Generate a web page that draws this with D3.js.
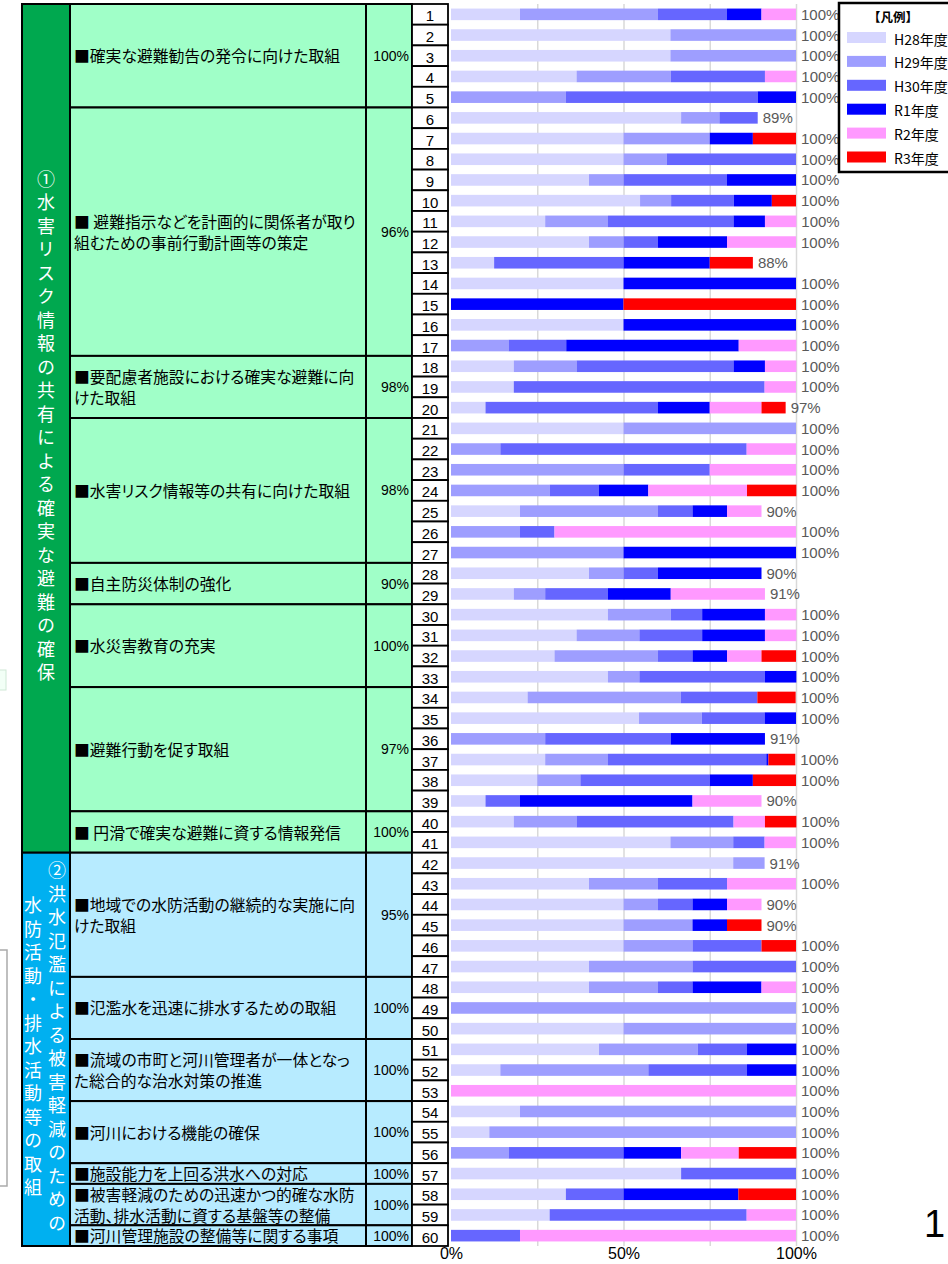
<!DOCTYPE html>
<html>
<head>
<meta charset="utf-8">
<script src="https://cdn.jsdelivr.net/npm/d3@7"></script>
<style>
  html, body { margin: 0; padding: 0; background: #fff; }
  svg { display: block; font-family: "Noto Sans CJK JP", "Noto Sans", sans-serif; }
  .jp { font-feature-settings: "palt"; }
  .num { font-family: "Liberation Sans", Arial, sans-serif; }
</style>
</head>
<body>
<div id="chart"></div>
<script>
// 行番号
const rows = d3.range(1, 61);

// 年度ごとの割合 (%)
const seriesNames = ["H28年度", "H29年度", "H30年度", "R1年度", "R2年度", "R3年度"];
const h28 = [20, 63.6, 63.6, 36.4, 0, 66.7, 50, 50, 40, 54.8,
             27.3, 40, 12.5, 50, 0, 50, 0, 18.2, 18.2, 10,
             50, 0, 0, 0, 20, 0, 0, 40, 18.2, 45.5,
             36.4, 30, 45.5, 22.2, 54.5, 0, 27.3, 25, 10, 18.2,
             63.6, 81.8, 40, 50, 50, 50, 40, 40, 0, 50,
             42.9, 14.3, 0, 20, 11.1, 0, 66.7, 33.3, 28.6, 0];
const h29 = [40, 36.4, 36.4, 27.3, 33.3, 11.1, 25, 12.5, 10, 9,
             18.2, 10, 0, 0, 0, 0, 16.7, 18.2, 0, 0,
             50, 14.3, 50, 28.6, 40, 20, 50, 10, 9.1, 18.2,
             18.2, 30, 9.1, 44.4, 18.2, 27.3, 18.2, 12.5, 0, 18.2,
             18.2, 9.1, 20, 10, 20, 20, 30, 20, 100, 50,
             28.6, 42.9, 0, 80, 88.9, 16.7, 0, 0, 0, 0];
const h30 = [20, 0, 0, 27.3, 55.6, 11.1, 0, 37.5, 30, 18.2,
             36.4, 10, 37.5, 0, 0, 0, 16.7, 45.5, 72.7, 50,
             0, 71.4, 25, 14.3, 10, 10, 0, 10, 18.2, 9.1,
             18.2, 10, 36.4, 22.2, 18.2, 36.4, 45.9, 37.5, 10, 45.5,
             9.1, 0, 20, 10, 0, 20, 30, 10, 0, 0,
             14.3, 28.6, 0, 0, 0, 33.3, 33.3, 16.7, 57.1, 20];
const r1  = [10, 0, 0, 0, 11.1, 0, 12.5, 0, 20, 11,
             9.1, 20, 25, 50, 50, 50, 50, 9.1, 0, 15,
             0, 0, 0, 14.3, 10, 0, 50, 30, 18.2, 18.2,
             18.2, 10, 9.1, 0, 9.1, 27.3, 0.6, 12.5, 50, 0,
             0, 0, 0, 10, 10, 0, 0, 20, 0, 0,
             14.3, 14.3, 0, 0, 0, 16.7, 0, 33.3, 0, 0];
const r2  = [10, 0, 0, 9.1, 0, 0, 0, 0, 0, 0,
             9.1, 20, 0, 0, 0, 0, 16.7, 9.1, 9.1, 15,
             0, 14.3, 25, 28.6, 10, 70, 0, 0, 27.3, 9.1,
             9.1, 10, 0, 0, 0, 0, 0, 0, 20, 9.1,
             9.1, 0, 20, 10, 0, 0, 0, 10, 0, 0,
             0, 0, 100, 0, 0, 16.7, 0, 0, 14.3, 80];
const r3  = [0, 0, 0, 0, 0, 0, 12.5, 0, 0, 7,
             0, 0, 12.5, 0, 50, 0, 0, 0, 0, 7,
             0, 0, 0, 14.3, 0, 0, 0, 0, 0, 0,
             0, 10, 0, 11.1, 0, 0, 7.8, 12.5, 0, 9.1,
             0, 0, 0, 0, 10, 10, 0, 0, 0, 0,
             0, 0, 0, 0, 0, 16.7, 0, 16.7, 0, 0];
const seriesColors = ["#d6d6ff", "#9e9eff", "#6666ff", "#0000ff", "#ff99ff", "#ff0000"];

// 取組項目 (行の範囲と達成率)
const groups = [
  { lines: ["■確実な避難勧告の発令に向けた取組"], pct: "100%", from: 1, to: 5 },
  { lines: ["■ 避難指示などを計画的に関係者が取り", "組むための事前行動計画等の策定"], pct: "96%", from: 6, to: 17 },
  { lines: ["■要配慮者施設における確実な避難に向", "けた取組"], pct: "98%", from: 18, to: 20 },
  { lines: ["■水害リスク情報等の共有に向けた取組"], pct: "98%", from: 21, to: 27 },
  { lines: ["■自主防災体制の強化"], pct: "90%", from: 28, to: 29 },
  { lines: ["■水災害教育の充実"], pct: "100%", from: 30, to: 33 },
  { lines: ["■避難行動を促す取組"], pct: "97%", from: 34, to: 39 },
  { lines: ["■ 円滑で確実な避難に資する情報発信"], pct: "100%", from: 40, to: 41 },
  { lines: ["■地域での水防活動の継続的な実施に向", "けた取組"], pct: "95%", from: 42, to: 47 },
  { lines: ["■氾濫水を迅速に排水するための取組"], pct: "100%", from: 48, to: 50 },
  { lines: ["■流域の市町と河川管理者が一体となっ", "た総合的な治水対策の推進"], pct: "100%", from: 51, to: 53 },
  { lines: ["■河川における機能の確保"], pct: "100%", from: 54, to: 56 },
  { lines: ["■施設能力を上回る洪水への対応"], pct: "100%", from: 57, to: 57 },
  { lines: ["■被害軽減のための迅速かつ的確な水防", "活動、排水活動に資する基盤等の整備"], pct: "100%", from: 58, to: 59 },
  { lines: ["■河川管理施設の整備等に関する事項"], pct: "100%", from: 60, to: 60 }
];

// 大項目
const sections = [
  { cols: ["①水害リスク情報の共有による確実な避難の確保"], from: 1, to: 41 },
  { cols: ["②洪水氾濫による被害軽減のための", "水防活動・排水活動等の取組"], from: 42, to: 60 }
];
const sectionDark  = ["#00a84f", "#00b0f0"];
const sectionLight = ["#a0ffc8", "#b7ebff"];

const xTicks = [0, 50, 100];
const gridTicks = [25, 50, 75, 100];

// ---- 描画 ----
const W = 948, H = 1264;
const yTop = 4, yBottom = 1246;

const svg = d3.select("#chart").append("svg")
  .attr("width", W).attr("height", H);

const x = d3.scaleLinear().domain([0, 100]).range([451, 796]);
const yRow = d3.scaleBand().domain(rows).range([yTop, yBottom]);
const yBar = d3.scaleBand().domain(rows).range([yTop, yBottom])
  .paddingInner(0.44).paddingOuter(0.22);
const color = d3.scaleOrdinal().domain(seriesNames).range(seriesColors);
const step = yRow.step();

const table = rows.map((r, i) => ({
  row: r,
  "H28年度": h28[i], "H29年度": h29[i], "H30年度": h30[i],
  "R1年度": r1[i], "R2年度": r2[i], "R3年度": r3[i]
}));
const stacked = d3.stack().keys(seriesNames)(table);
const sectionOf = r => sections.findIndex(s => r >= s.from && r <= s.to);

// 背景のかすれた枠 (元資料の残り)
svg.append("rect").attr("x", -6).attr("y", 950).attr("width", 13).attr("height", 236)
  .attr("fill", "none").attr("stroke", "#aaa").attr("stroke-width", 1.5);
svg.append("rect").attr("x", -6).attr("y", 670).attr("width", 12).attr("height", 20)
  .attr("fill", "#f2fff6").attr("stroke", "#cfe8d6").attr("stroke-width", 1);

// 大項目列
const secG = svg.append("g");
sections.forEach((s, i) => {
  const y0 = yRow(s.from), y1 = yRow(s.to) + step;
  secG.append("rect")
    .attr("x", 22).attr("y", y0).attr("width", 48).attr("height", y1 - y0)
    .attr("fill", sectionDark[i]).attr("stroke", "#000").attr("stroke-width", 2);
  const xs = s.cols.length === 1 ? [46] : [57, 33];
  s.cols.forEach((c, j) => {
    secG.append("text")
      .attr("x", xs[j]).attr("y", (y0 + y1) / 2)
      .attr("text-anchor", "middle")
      .style("writing-mode", "vertical-rl")
      .style("text-orientation", "upright")
      .style("letter-spacing", "5.5px")
      .attr("font-size", 18).attr("fill", "#fff")
      .text(c);
  });
});

// 取組項目列と達成率列
const grpG = svg.append("g");
groups.forEach(g => {
  const y0 = yRow(g.from), y1 = yRow(g.to) + step;
  const fill = sectionLight[sectionOf(g.from)];
  grpG.append("rect")
    .attr("x", 70).attr("y", y0).attr("width", 296).attr("height", y1 - y0)
    .attr("fill", fill).attr("stroke", "#000").attr("stroke-width", 2);
  grpG.append("rect")
    .attr("x", 366).attr("y", y0).attr("width", 46).attr("height", y1 - y0)
    .attr("fill", fill).attr("stroke", "#000").attr("stroke-width", 2);
  const cy = (y0 + y1) / 2, lh = 21;
  g.lines.forEach((ln, k) => {
    grpG.append("text").attr("class", "jp")
      .attr("x", 74)
      .attr("y", cy + (k - (g.lines.length - 1) / 2) * lh)
      .attr("dominant-baseline", "central")
      .attr("font-size", 15.8).attr("fill", "#000")
      .text(ln);
  });
  grpG.append("text").attr("class", "num")
    .attr("x", 409).attr("y", cy)
    .attr("dominant-baseline", "central").attr("text-anchor", "end")
    .attr("font-size", 14).attr("fill", "#000")
    .text(g.pct);
});

// 行番号
const numG = svg.append("g").selectAll("g").data(rows).join("g");
numG.append("rect")
  .attr("x", 412).attr("y", d => yRow(d)).attr("width", 36).attr("height", step)
  .attr("fill", "#fff").attr("stroke", "#000").attr("stroke-width", 1.8);
numG.append("text").attr("class", "num")
  .attr("x", 430).attr("y", d => yRow(d) + step / 2 + 1.5)
  .attr("text-anchor", "middle").attr("dominant-baseline", "central")
  .attr("font-size", 15).attr("fill", "#000")
  .text(d => d);

// グリッド
svg.append("g")
  .attr("transform", `translate(0,${yBottom})`)
  .call(d3.axisBottom(x).tickValues(gridTicks).tickSize(-(yBottom - yTop)).tickFormat(""))
  .call(g => g.select(".domain").remove())
  .selectAll(".tick line").attr("stroke", "#d9d9d9").attr("stroke-width", 1.5);

// 積み上げ棒
svg.append("g").selectAll("g")
  .data(stacked).join("g")
  .attr("fill", d => color(d.key))
  .selectAll("rect")
  .data(d => d).join("rect")
  .attr("x", d => x(d[0]))
  .attr("y", d => yBar(d.data.row))
  .attr("width", d => Math.max(0, x(d[1]) - x(d[0])))
  .attr("height", yBar.bandwidth());

// 合計ラベル
svg.append("g").selectAll("text")
  .data(table).join("text").attr("class", "num")
  .attr("x", d => x(d3.sum(seriesNames, k => d[k])) + 5)
  .attr("y", d => yBar(d.row) + yBar.bandwidth() / 2)
  .attr("dominant-baseline", "central")
  .attr("font-size", 15).attr("fill", "#595959")
  .text(d => Math.round(d3.sum(seriesNames, k => d[k])) + "%");

// x軸ラベル
svg.append("g")
  .attr("transform", `translate(0,${yBottom})`)
  .attr("font-size", 16)
  .call(d3.axisBottom(x).tickValues(xTicks).tickSize(0).tickPadding(2).tickFormat(d => d + "%"))
  .call(g => g.select(".domain").remove())
  .selectAll("text").attr("class", "num").attr("font-size", 16).attr("fill", "#000");

// 凡例
const leg = svg.append("g");
leg.append("rect").attr("x", 839).attr("y", 3).attr("width", 120).attr("height", 169)
  .attr("fill", "#fff").attr("stroke", "#000").attr("stroke-width", 2.5);
leg.append("text").attr("x", 893).attr("y", 16)
  .attr("text-anchor", "middle").attr("dominant-baseline", "central")
  .attr("font-size", 12.5).attr("font-weight", "bold").attr("fill", "#000").text("【凡例】");
const li = leg.selectAll("g.item").data(seriesNames).join("g").attr("class", "item")
  .attr("transform", (d, i) => `translate(0,${37.5 + i * 23.9})`);
li.append("rect").attr("x", 847).attr("y", -5.5).attr("width", 39).attr("height", 11)
  .attr("fill", d => color(d));
li.append("text").attr("x", 894).attr("y", 1)
  .attr("dominant-baseline", "central")
  .attr("font-size", 14).attr("fill", "#000").text(d => d);

// ページ番号
svg.append("text").attr("class", "num")
  .attr("x", 924).attr("y", 1237)
  .attr("font-size", 38).attr("fill", "#000").text("1");
</script>
</body>
</html>
